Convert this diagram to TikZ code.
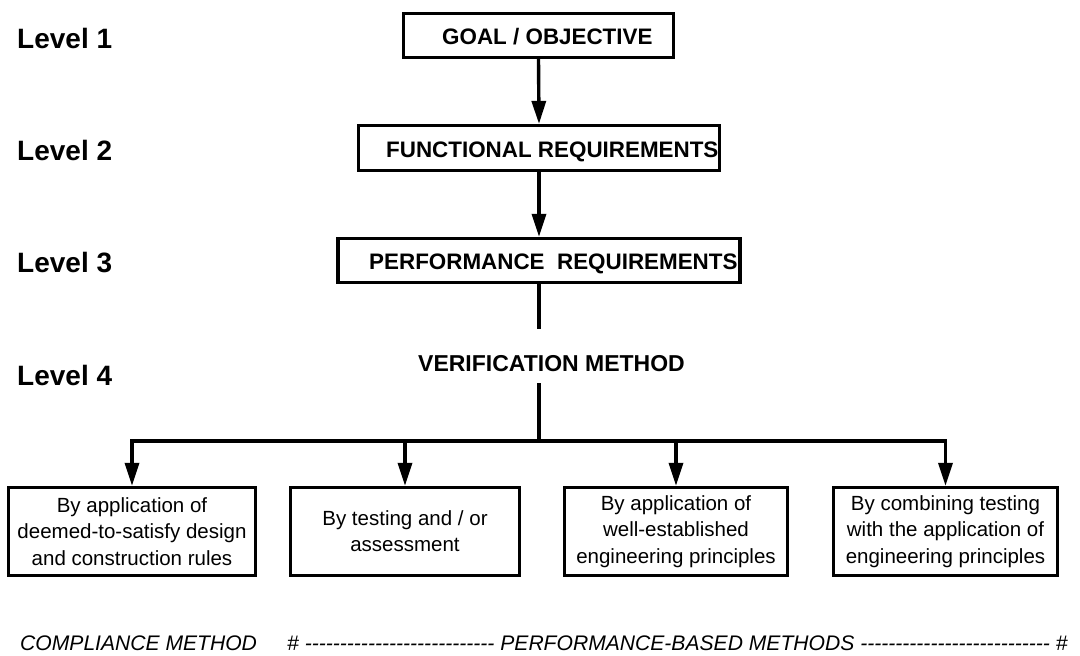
\documentclass[tikz,border=0pt]{standalone}
\usepackage{fontspec}
\setmainfont{Liberation Sans}
\usetikzlibrary{arrows.meta}
% a run of plain hyphens that the TeX ligature mapping leaves alone
\newcommand\hyphenrun[1]{\foreach \k in {1,...,#1}{-\kern0pt}}
\begin{document}
\begin{tikzpicture}[x=1pt,y=-1pt,
  lvl/.style={anchor=base west, inner sep=0, font=\fontsize{28}{30}\selectfont\bfseries},
  ttl/.style={anchor=base west, inner sep=0, font=\fontsize{22.4}{24}\selectfont\bfseries},
  frame/.style={draw, line width=3.2pt, inner sep=0},
  method/.style={frame, align=center, minimum height=88pt, font=\fontsize{20.5}{26.3}\selectfont},
  wire/.style={line width=3.4pt},
  arr/.style={wire, -{Triangle[length=23pt,width=14pt]}},
  note/.style={anchor=base west, inner sep=0, font=\fontsize{21.1}{24}\selectfont\itshape}]
\useasboundingbox (0,0) rectangle (1080,656);

% level labels
\node[lvl] (l1) at (17,48) {Level 1};
\node[lvl] (l2) at (17,160.3) {Level 2};
\node[lvl] (l3) at (17,272.7) {Level 3};
\node[lvl] (l4) at (17,385) {Level 4};

% titles of the three upper boxes
\node[ttl] (tgoal) at (442,44.5) {GOAL / OBJECTIVE};
\node[ttl] (tfunc) at (386,157) {FUNCTIONAL REQUIREMENTS};
\node[ttl] (tperf) at (369,269) {PERFORMANCE\ \ REQUIREMENTS};

% the upper boxes
\node[frame, minimum width=270pt, minimum height=44pt] (goal) at (538.5,35.5) {};
\node[frame, minimum width=361pt, minimum height=45pt] (func) at (539,148) {};
\node[frame, minimum width=402pt, minimum height=44pt] (perf) at (539,260.5) {};

\draw[arr] (goal.south) -- (func.north);
\draw[arr] (func.south) -- (perf.north);

% verification method
\node[ttl, font=\fontsize{23}{25}\selectfont\bfseries] (vm) at (418,371) {VERIFICATION METHOD};
\coordinate (stemA) at (539,329);
\coordinate (stemB) at (539,383);
\coordinate (bus) at (539,441);
\draw[wire] (perf.south) -- (stemA);
\draw[wire] (stemB) -- (bus);

% the four methods
\node[method, minimum width=247pt] (m1) at (132,531.5) {By application of\\deemed-to-satisfy design\\and construction rules};
\node[method, minimum width=229pt] (m2) at (405,531.5) {By testing and / or\\assessment};
\node[method, minimum width=223pt] (m3) at (676,531.5) {By application of\\well-established\\engineering principles};
\node[method, minimum width=224pt] (m4) at (945.5,531.5) {By combining testing\\with the application of\\engineering principles};

\draw[wire, {Triangle[length=23pt,width=14pt]}-{Triangle[length=23pt,width=14pt]}]
  (m1.north) -- (m1.north |- bus) -- (m4.north |- bus) -- (m4.north);
\draw[arr] (m2.north |- bus) -- (m2.north);
\draw[arr] (m3.north |- bus) -- (m3.north);

% compliance line
\node[note] (cm) at (20,650) {COMPLIANCE METHOD};
\node[note] (pb) at (287,650) {\# \hyphenrun{27} PERFORMANCE-BASED METHODS \hyphenrun{27} \#};
\end{tikzpicture}
\end{document}
